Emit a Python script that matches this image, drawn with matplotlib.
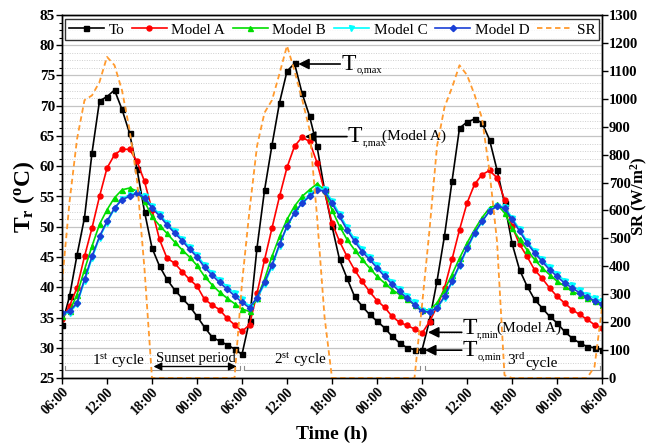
import numpy as np
import matplotlib
matplotlib.use("Agg")
import matplotlib.pyplot as plt
from matplotlib.ticker import MultipleLocator, AutoMinorLocator

plt.rcParams['font.family'] = ['Liberation Serif', 'DejaVu Serif']
plt.rcParams['mathtext.fontset'] = 'custom'
plt.rcParams['mathtext.rm'] = 'Liberation Serif'
plt.rcParams['mathtext.it'] = 'Liberation Serif:italic'
plt.rcParams['mathtext.bf'] = 'Liberation Serif:bold'

# hourly time stamps over three days, starting at 06:00
hours = np.arange(73)
tick_hours = list(range(0, 73, 6))
tick_labels = ['06:00', '12:00', '18:00', '00:00'] * 3 + ['06:00']

# measured outdoor temperature (To)
temp_o = [33.8, 38.5, 45.3, 51.5, 62.2, 70.8, 71.5, 72.6, 69.4, 65.5, 59.5, 52.5, 46.5,
          43.5, 41.3, 39.6, 38.2, 36.9, 35.2, 33.4, 31.8, 31.1, 30.5, 29.8, 28.9,
          34.5, 46.5, 56.0, 63.5, 70.5, 75.7, 77.0, 72.1, 68.3, 63.3, 56.1, 50.1,
          44.6, 41.5, 38.5, 36.9, 35.5, 34.4, 33.3, 31.9, 30.8, 30.0, 29.7, 29.6,
          34.5, 41.0, 48.5, 57.5, 66.3, 67.3, 67.8, 67.2, 64.4, 59.4, 53.9, 47.3,
          42.9, 40.2, 38.0, 36.6, 35.2, 34.1, 32.7, 31.6, 30.8, 30.2, 30.0, 29.7]

# roof temperature predicted by each model
model_a = [34.7, 36.9, 39.9, 45.1, 49.8, 55.0, 59.7, 61.9, 62.8, 62.8, 60.8, 57.5, 52.8,
           47.9, 44.8, 44.0, 42.6, 41.3, 40.2, 38.0, 37.1, 36.3, 34.9, 33.8, 32.7,
           33.8, 39.0, 44.5, 49.8, 55.0, 59.8, 63.3, 64.8, 64.1, 60.6, 55.9, 50.6,
           47.6, 45.1, 42.9, 41.0, 39.3, 37.8, 36.7, 35.2, 34.2, 33.7, 33.1, 32.4,
           34.3, 36.8, 39.9, 44.6, 49.5, 53.9, 57.0, 58.6, 59.3, 58.1, 54.5, 50.1,
           47.1, 45.1, 42.9, 41.5, 39.9, 38.5, 37.4, 36.3, 35.5, 34.7, 33.8, 33.3]

model_b = [35.2, 36.0, 38.8, 42.9, 46.8, 50.4, 52.8, 54.8, 56.1, 56.4, 55.9, 54.2, 51.7,
           50.2, 48.9, 47.5, 46.2, 45.0, 43.6, 41.8, 40.4, 39.2, 38.2, 37.3, 36.4,
           36.0, 38.2, 41.3, 45.1, 48.4, 51.2, 53.4, 55.0, 56.1, 57.1, 56.1, 52.8,
           50.1, 47.9, 46.2, 44.6, 43.2, 41.8, 40.7, 39.6, 38.8, 38.0, 37.1, 36.3,
           36.2, 37.4, 39.6, 42.1, 44.8, 47.3, 49.5, 51.5, 53.1, 53.7, 52.3, 49.8,
           47.9, 46.2, 44.6, 43.2, 42.1, 41.0, 40.2, 39.3, 38.8, 38.2, 37.7, 37.1]

model_c = [35.6, 35.8, 37.2, 41.0, 44.8, 48.2, 50.7, 53.0, 54.6, 55.3, 55.6, 55.0, 53.4,
           52.1, 50.6, 49.3, 48.0, 46.6, 45.3, 43.7, 42.4, 41.2, 40.1, 39.0, 38.0,
           36.8, 38.1, 40.5, 43.4, 46.9, 50.0, 52.2, 54.0, 55.3, 56.3, 56.2, 54.3,
           52.1, 49.9, 48.0, 46.3, 45.0, 43.6, 42.2, 40.9, 39.7, 38.6, 37.5, 36.3,
           36.0, 36.5, 38.3, 40.8, 43.5, 46.3, 48.8, 50.8, 52.6, 53.5, 53.3, 51.5,
           49.6, 47.6, 46.0, 44.6, 43.3, 42.2, 41.1, 40.3, 39.5, 38.8, 38.2, 37.7]

model_d = [35.8, 36.0, 37.4, 41.3, 45.1, 48.4, 50.9, 53.1, 54.5, 55.0, 55.5, 54.8, 53.1,
           51.8, 50.3, 49.0, 47.7, 46.3, 45.0, 43.3, 42.0, 40.8, 39.7, 38.6, 37.5,
           36.6, 38.3, 40.8, 43.7, 47.1, 50.1, 52.3, 53.9, 55.0, 56.1, 55.9, 53.9,
           51.7, 49.5, 47.6, 45.9, 44.6, 43.2, 41.8, 40.5, 39.3, 38.2, 37.1, 36.0,
           35.9, 36.6, 38.5, 41.0, 43.7, 46.5, 49.0, 50.9, 52.6, 53.4, 53.1, 51.2,
           49.3, 47.3, 45.7, 44.3, 42.9, 41.8, 40.7, 39.9, 39.1, 38.4, 37.8, 37.3]

# solar radiation (W/m2)
solar = [340, 630, 855, 995, 1012, 1060, 1150, 1120, 1030, 890, 710, 390, 0,
         0, 0, 0, 0, 0, 0, 0, 0, 0, 0, 0, 340,
         600, 830, 950, 995, 1090, 1190, 1100, 1000, 890, 580, 220, 0,
         0, 0, 0, 0, 0, 0, 0, 0, 0, 0, 0, 260,
         530, 830, 970, 1040, 1120, 1085, 1015, 930, 740, 490, 10, 0,
         0, 0, 0, 0, 0, 0, 0, 0, 0, 0, 40, 250]

fig = plt.figure(figsize=(6.49, 4.48), dpi=100)
ax = fig.add_axes([62 / 649, 1 - 378 / 448, 540 / 649, 363 / 448])
ax2 = ax.twinx()

series = [
    ('To', temp_o, 'black', 's'),
    ('Model A', model_a, '#ff0000', 'o'),
    ('Model B', model_b, '#00dd00', '^'),
    ('Model C', model_c, '#00ffff', 'v'),
    ('Model D', model_d, '#1a3fd6', 'D'),
]
handles = []
for name, vals, col, mk in series:
    ms = 3.6 if mk != 'D' else 3.2
    h, = ax.plot(hours, vals, color=col, lw=1.2, marker=mk, ms=ms, mec=col, mfc=col, label=name)
    handles.append(h)

hs, = ax2.plot(hours, solar, color='#ff9a2e', lw=1.3, ls=(0, (3, 2)), label='SR')
handles.append(hs)

ax.set_xlim(0, 72)
ax.set_ylim(25, 85)
ax2.set_ylim(0, 1300)

ax.set_xticks(tick_hours)
ax.set_xticklabels(tick_labels, rotation=45, ha='right', rotation_mode='anchor',
                   fontweight='bold', fontsize=10)
ax.yaxis.set_major_locator(MultipleLocator(5))
ax.yaxis.set_minor_locator(AutoMinorLocator(4))
ax2.yaxis.set_major_locator(MultipleLocator(100))
for lab in ax.get_yticklabels():
    lab.set_fontweight('bold')
    lab.set_fontsize(11)
for lab in ax2.get_yticklabels():
    lab.set_fontweight('bold')
    lab.set_fontsize(10.5)

ax.tick_params(axis='both', which='major', direction='out', length=4, width=1, pad=1)
ax.tick_params(axis='y', which='minor', direction='out', length=2, width=0.8)
ax2.tick_params(axis='y', which='major', direction='out', length=4, width=1, pad=1)

ax.grid(True, which='major', axis='y', color='#c4c4c4', lw=0.9, ls='-')
ax.grid(True, which='minor', axis='y', color='#cfcfcf', lw=0.7, ls=(0, (1, 1.5)))
ax.set_axisbelow(True)

for sp in list(ax.spines.values()) + list(ax2.spines.values()):
    sp.set_linewidth(1.0)

ax.set_xlabel('Time (h)', fontsize=14, fontweight='bold', labelpad=6)
ax.set_ylabel(r'$\mathbf{T_r}$ $\mathbf{(^oC)}$', fontsize=17, labelpad=2)
ax2.set_ylabel(r'SR (W/m$\mathbf{^2}$)', fontsize=12, fontweight='bold')
ax2.yaxis.set_label_coords(1.05, 0.5)

leg = ax.legend(handles=handles, loc='upper center', bbox_to_anchor=(0.5, 0.997), ncol=6,
                fontsize=11, handlelength=2.3, handletextpad=0.3, columnspacing=0.5,
                borderpad=0.25, frameon=True, fancybox=False, edgecolor='black', borderaxespad=0.2)
leg.get_frame().set_linewidth(1.0)
leg.set_zorder(10)


def temp_label(t, y, sub, note=None, note_dy=0.0):
    """Large T with a small subscript, optionally followed by a note."""
    ax.text(t, y, 'T', fontsize=17, va='center', ha='left')
    ax.annotate(sub, xy=(t, y), xytext=(10.6, -4.5), textcoords='offset points',
                fontsize=7.5, va='center', ha='left')
    if note:
        ax.annotate(note, xy=(t, y), xytext=(25, note_dy), textcoords='offset points',
                    fontsize=11, va='center', ha='left')


# arrows pointing at the extremes
arrow_kw = dict(arrowstyle='-|>', color='black', lw=1.2, mutation_scale=16, shrinkA=0, shrinkB=0)
ax.annotate('', xy=(31.5, 76.9), xytext=(37.1, 76.9), arrowprops=arrow_kw)
temp_label(37.3, 76.9, 'o,max')
ax.annotate('', xy=(32.4, 64.9), xytext=(38.0, 64.9), arrowprops=arrow_kw)
temp_label(38.1, 64.9, 'r,max', '(Model A)', 0)
ax.annotate('', xy=(48.8, 32.55), xytext=(53.3, 32.55), arrowprops=arrow_kw)
temp_label(53.4, 33.2, 'r,min', '(Model A)', 0)
ax.annotate('', xy=(48.4, 29.6), xytext=(53.3, 29.6), arrowprops=arrow_kw)
temp_label(53.4, 29.6, 'o,min')

# sunset period arrow
ax.annotate('', xy=(12.2, 26.9), xytext=(23.3, 26.9),
            arrowprops=dict(arrowstyle='<|-|>', color='black', lw=1.0, mutation_scale=12,
                            shrinkA=0, shrinkB=0))
ax.text(17.8, 28.3, 'Sunset period', fontsize=10.5, ha='center', va='center')

# cycle brackets
for t0, t1 in [(0.4, 23.7), (24.3, 47.7), (48.4, 71.7)]:
    ax.plot([t0, t0, t1, t1], [27.0, 26.3, 26.3, 27.0], color='#8c8c8c', lw=0.8)
ax.text(7.5, 27.8, r'1$^{\mathrm{st}}$ cycle', fontsize=11, ha='center', va='center')
ax.text(31.8, 28.0, r'2$^{\mathrm{st}}$ cycle', fontsize=11, ha='center', va='center')
ax.text(60.6, 28.0, r'3$^{\mathrm{rd}}$', fontsize=11, ha='center', va='center')
ax.text(64.0, 27.4, 'cycle', fontsize=11, ha='center', va='center')

fig.savefig('out.png', dpi=100)
